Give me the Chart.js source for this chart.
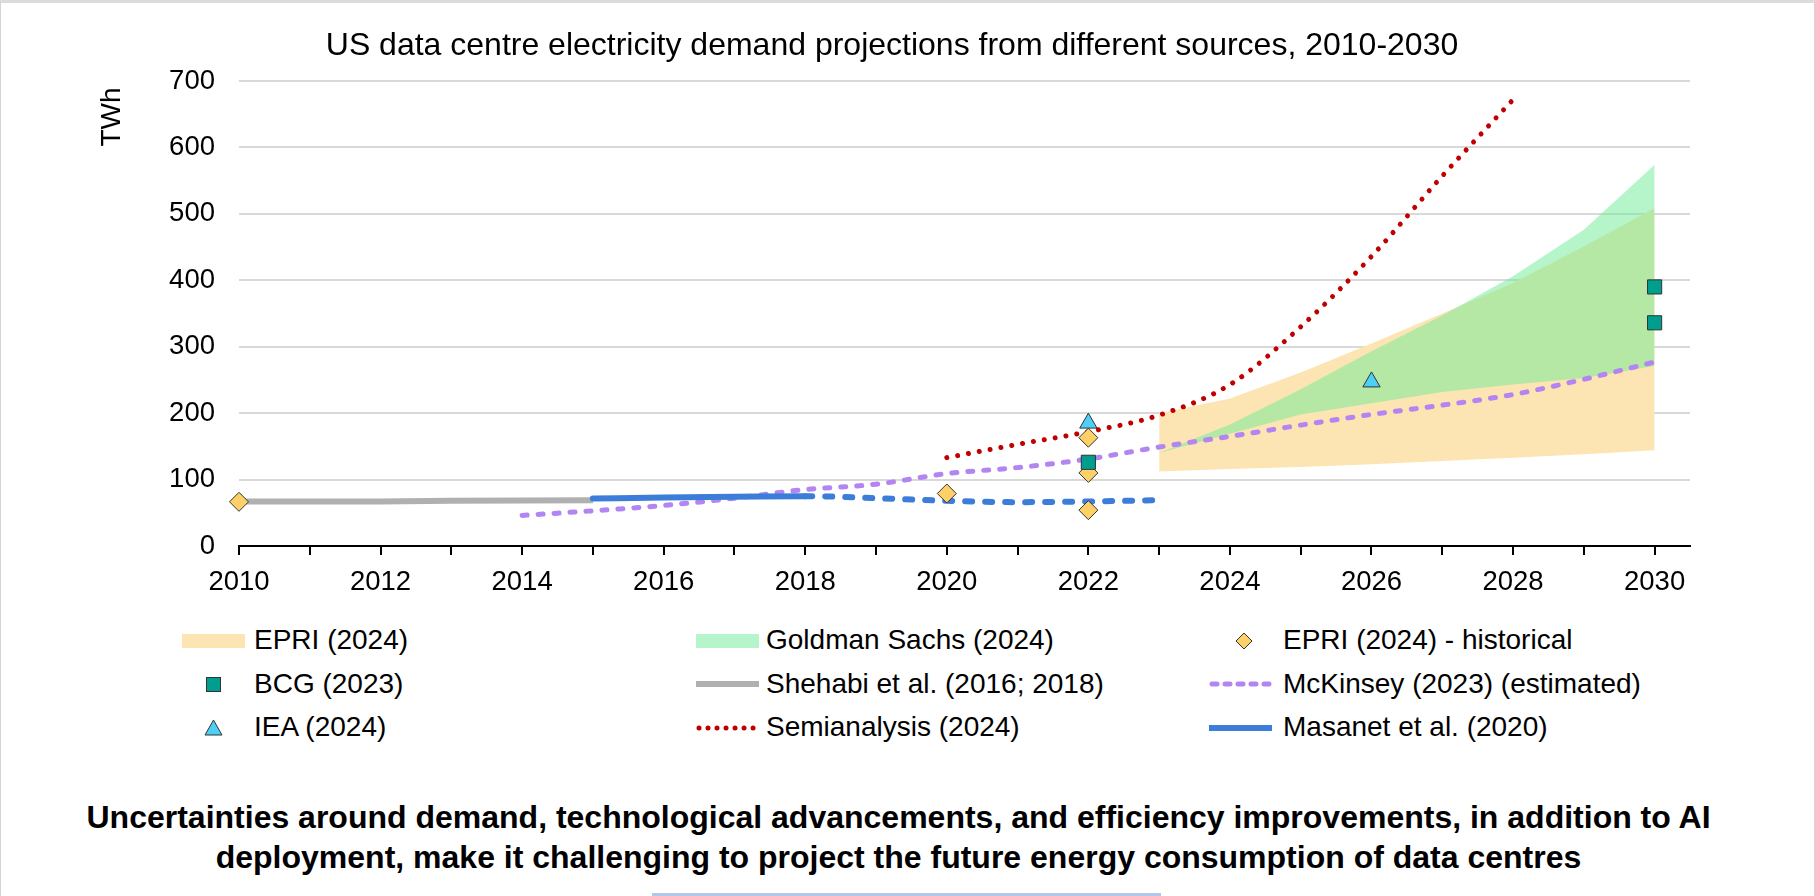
<!DOCTYPE html>
<html>
<head>
<meta charset="utf-8">
<title>US data centre electricity demand projections</title>
<script src="https://cdn.jsdelivr.net/npm/chart.js@4.4.1/dist/chart.umd.min.js"></script>
<style>
  body { margin: 0; background: #fff; }
  #page { position: relative; width: 1815px; height: 896px; overflow: hidden;
          font-family: 'Liberation Sans', Arial, sans-serif; color: #000; }
  .frame { position: absolute; left: 0; top: 0; width: 1815px; height: 896px; box-sizing: border-box;
           border-top: 3px solid #dcdcdc; border-left: 1px solid #d4d4d4; border-right: 1px solid #d4d4d4; }
  #chart { position: absolute; left: 0; top: 0; }
  #title { position: absolute; left: 0; width: 1784px; top: 28px; text-align: center;
           font-size: 32px; line-height: 32px; white-space: nowrap; }
  #unit { position: absolute; left: 71px; top: 103px; width: 80px; text-align: center;
          font-size: 28px; line-height: 28px; transform: rotate(-90deg); }
  .leg { position: absolute; font-size: 28px; line-height: 40px; white-space: nowrap; }
  .sym { position: absolute; }
  #note { position: absolute; left: 0; width: 1797px; top: 797px; text-align: center;
          font-size: 32px; line-height: 40px; font-weight: bold; }
  .bar { position: absolute; left: 652px; width: 509px; top: 893px; height: 3px; background: #b4c7e7; }
</style>
</head>
<body>
<div id="page">
  <div class="frame"></div>
  <canvas id="chart" width="1815" height="610"></canvas>
  <div id="title">US data centre electricity demand projections from different sources, 2010-2030</div>
  <div id="unit">TWh</div>

  <!-- legend, column 1 -->
  <svg class="sym" style="left:182px;top:631px" width="63" height="20"><rect x="0" y="3" width="63" height="14" fill="#fde5b3"/></svg>
  <div class="leg" style="left:254px;top:620px">EPRI (2024)</div>
  <svg class="sym" style="left:182px;top:674px" width="63" height="20"><rect x="24.5" y="3.5" width="14" height="14" fill="#009e8f" stroke="#333" stroke-width="1"/></svg>
  <div class="leg" style="left:254px;top:664px">BCG (2023)</div>
  <svg class="sym" style="left:182px;top:718px" width="63" height="20"><polygon points="31.5,2 40,17 23,17" fill="#4dcff6" stroke="#333" stroke-width="1"/></svg>
  <div class="leg" style="left:254px;top:707px">IEA (2024)</div>

  <!-- legend, column 2 -->
  <svg class="sym" style="left:696px;top:631px" width="63" height="20"><rect x="0" y="3" width="63" height="14" fill="#b6f5cb"/></svg>
  <div class="leg" style="left:766px;top:620px">Goldman Sachs (2024)</div>
  <svg class="sym" style="left:696px;top:674px" width="63" height="20"><line x1="0" y1="10" x2="63" y2="10" stroke="#b0b0b0" stroke-width="6"/></svg>
  <div class="leg" style="left:766px;top:664px">Shehabi et al. (2016; 2018)</div>
  <svg class="sym" style="left:696px;top:718px" width="63" height="20"><line x1="3" y1="10" x2="63" y2="10" stroke="#c00000" stroke-width="5" stroke-linecap="round" stroke-dasharray="0.01 9"/></svg>
  <div class="leg" style="left:766px;top:707px">Semianalysis (2024)</div>

  <!-- legend, column 3 -->
  <svg class="sym" style="left:1209px;top:631px" width="63" height="20"><polygon points="35,2 43,10 35,18 27,10" fill="#fdd068" stroke="#333" stroke-width="1"/></svg>
  <div class="leg" style="left:1283px;top:620px">EPRI (2024) - historical</div>
  <svg class="sym" style="left:1209px;top:674px" width="63" height="20"><line x1="3" y1="10" x2="63" y2="10" stroke="#b385f2" stroke-width="5" stroke-linecap="round" stroke-dasharray="5 8"/></svg>
  <div class="leg" style="left:1283px;top:664px">McKinsey (2023) (estimated)</div>
  <svg class="sym" style="left:1209px;top:718px" width="63" height="20"><line x1="0" y1="10" x2="63" y2="10" stroke="#3b7dd8" stroke-width="6"/></svg>
  <div class="leg" style="left:1283px;top:707px">Masanet et al. (2020)</div>

  <div id="note">Uncertainties around demand, technological advancements, and efficiency improvements, in addition to AI<br>deployment, make it challenging to project the future energy consumption of data centres</div>
  <div class="bar"></div>
</div>

<script>
const yearTicks = [2010, 2011, 2012, 2013, 2014, 2015, 2016, 2017, 2018, 2019, 2020,
                   2021, 2022, 2023, 2024, 2025, 2026, 2027, 2028, 2029, 2030];
const twhTicks = [0, 100, 200, 300, 400, 500, 600, 700];

// EPRI (2024) range
const epriYears = [2023, 2024, 2025, 2026, 2027, 2028, 2029, 2030];
const epriLow = [112, 116, 119, 123, 128, 133, 138, 144];
const epriHigh = [200, 222, 261, 305, 350, 396, 451, 509];

// Goldman Sachs (2024) range
const gsYears = [2023, 2024, 2025, 2026, 2027, 2028, 2029, 2030];
const gsLow = [140, 169, 198, 215, 232, 243, 253, 271];
const gsHigh = [140, 183, 236, 293, 347, 406, 476, 574];

const shehabiYears = [2010, 2011, 2012, 2013, 2014, 2015];
const shehabiTWh = [67, 67, 67, 68, 68.5, 69];

const mckinseyYears = [2014, 2015, 2016, 2017, 2018, 2019, 2020, 2021, 2022,
                       2023, 2024, 2025, 2026, 2027, 2028, 2029, 2030];
const mckinseyTWh = [46, 53, 61, 72, 85, 93, 109, 118, 131, 149, 165, 182, 198, 212, 228, 251, 277];

const semianalysisYears = [2020, 2021, 2022, 2023, 2024, 2025, 2026, 2027, 2028];
const semianalysisTWh = [133, 153, 172, 197, 243, 330, 436, 557, 672];

const masanetYears = [2015, 2016, 2017, 2018, 2019, 2020, 2021, 2022, 2023];
const masanetTWh = [71.5, 73, 74, 75, 72, 68, 66, 67, 69];
const masanetProjectedFrom = 2018;

const epriHistYears = [2010, 2020, 2022, 2022, 2022];
const epriHistTWh = [66.5, 79, 163, 110, 54];

const bcgYears = [2022, 2030, 2030];
const bcgTWh = [126, 390, 336];

const ieaYears = [2022, 2026];
const ieaTWh = [185, 247];

const FONT = "'Liberation Sans', Arial, sans-serif";
Chart.defaults.font.family = FONT;
Chart.defaults.color = '#000';

function toPoints(xs, ys) {
  return xs.map((x, i) => ({ x, y: ys[i] }));
}

function band(label, xs, ys, order, fill, color) {
  return {
    label, data: toPoints(xs, ys), order,
    borderColor: 'transparent', borderWidth: 0, pointRadius: 0,
    tension: 0, fill, backgroundColor: color
  };
}

function markers(label, xs, ys, order, style, radius, color) {
  return {
    label, data: toPoints(xs, ys), order, showLine: false, clip: false,
    pointStyle: style, pointRadius: radius, pointHoverRadius: radius,
    pointBackgroundColor: color, pointBorderColor: '#333', pointBorderWidth: 1
  };
}

const datasets = [
  band('EPRI low', epriYears, epriLow, 10, false, 'transparent'),
  band('EPRI (2024)', epriYears, epriHigh, 10, '-1', '#fde5b3'),
  band('GS low', gsYears, gsLow, 9, false, 'transparent'),
  band('Goldman Sachs (2024)', gsYears, gsHigh, 9, '-1', 'rgba(110, 235, 150, 0.5)'),
  {
    label: 'Shehabi et al. (2016; 2018)', data: toPoints(shehabiYears, shehabiTWh), order: 6,
    borderColor: '#b0b0b0', borderWidth: 6, pointRadius: 0, fill: false
  },
  {
    label: 'McKinsey (2023) (estimated)', data: toPoints(mckinseyYears, mckinseyTWh), order: 5,
    borderColor: '#b385f2', borderWidth: 5, borderDash: [5, 11], borderCapStyle: 'round',
    pointRadius: 0, fill: false, cubicInterpolationMode: 'monotone'
  },
  {
    label: 'Semianalysis (2024)', data: toPoints(semianalysisYears, semianalysisTWh), order: 4,
    borderColor: '#c00000', borderWidth: 5, borderDash: [0.01, 11], borderCapStyle: 'round',
    pointRadius: 0, fill: false, cubicInterpolationMode: 'monotone'
  },
  {
    label: 'Masanet et al. (2020)', data: toPoints(masanetYears, masanetTWh), order: 3,
    borderColor: '#3b7dd8', borderWidth: 6, borderCapStyle: 'round',
    pointRadius: 0, fill: false, cubicInterpolationMode: 'monotone',
    segment: {
      borderDash: c => c.p0.parsed.x >= masanetProjectedFrom ? [7, 13] : undefined
    }
  },
  markers('EPRI (2024) - historical', epriHistYears, epriHistTWh, 2, 'rectRot', 9.5, '#fdd068'),
  markers('BCG (2023)', bcgYears, bcgTWh, 1, 'rect', 10, '#009e8f'),
  markers('IEA (2024)', ieaYears, ieaTWh, 0, 'triangle', 10, '#4dcff6')
];

new Chart(document.getElementById('chart'), {
  type: 'line',
  data: { datasets },
  options: {
    responsive: false,
    animation: false,
    events: [],
    layout: { padding: { left: 0, right: 125, top: 81, bottom: 0 } },
    plugins: {
      legend: { display: false },
      tooltip: { enabled: false },
      title: { display: false }
    },
    scales: {
      x: {
        type: 'linear',
        min: 2010,
        max: 2030.5,
        afterBuildTicks: s => { s.ticks = yearTicks.map(v => ({ value: v })); },
        afterFit: s => { s.height = 64; },
        ticks: {
          callback: v => (v % 2 === 0 ? String(v) : ''),
          font: { size: 27.5 }, color: '#000', padding: 11,
          maxRotation: 0, autoSkip: false
        },
        grid: { drawOnChartArea: false, color: '#000', lineWidth: 2, tickLength: 9 },
        border: { color: '#000', width: 2 }
      },
      y: {
        min: 0,
        max: 700,
        afterBuildTicks: s => { s.ticks = twhTicks.map(v => ({ value: v })); },
        afterFit: s => { s.width = 239; },
        ticks: { font: { size: 27.5 }, color: '#000', padding: 24 },
        grid: { color: '#d9d9d9', lineWidth: 2, drawTicks: false },
        border: { display: false }
      }
    }
  }
});
</script>
</body>
</html>
